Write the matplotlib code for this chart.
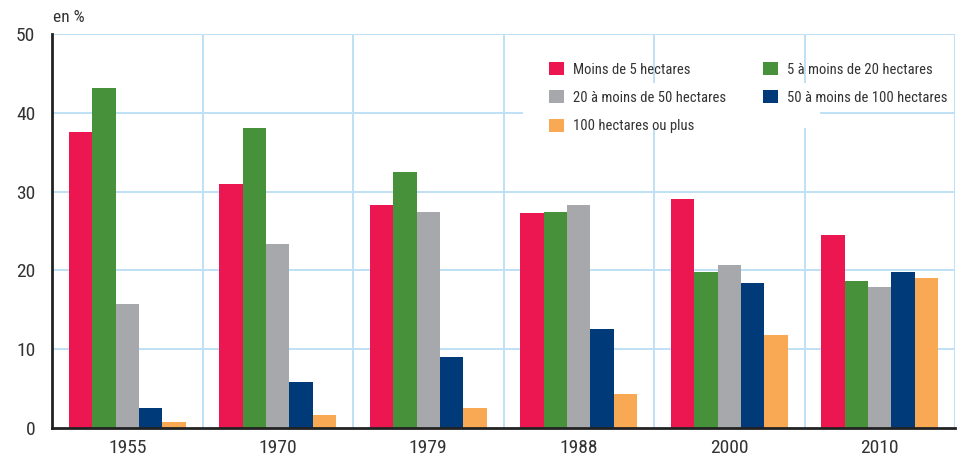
import matplotlib
matplotlib.use("Agg")
import matplotlib.pyplot as plt
import numpy as np
from matplotlib.patches import Rectangle
import logging
logging.getLogger('matplotlib.font_manager').setLevel(logging.ERROR)

years = ["1955", "1970", "1979", "1988", "2000", "2010"]
series_names = ["Moins de 5 hectares", "5 à moins de 20 hectares",
                "20 à moins de 50 hectares", "50 à moins de 100 hectares",
                "100 hectares ou plus"]
moins5 = [37.6, 31.0, 28.3, 27.3, 29.1, 24.5]
de5a20 = [43.2, 38.1, 32.5, 27.4, 19.8, 18.6]
de20a50 = [15.7, 23.3, 27.4, 28.3, 20.7, 17.9]
de50a100 = [2.5, 5.8, 9.0, 12.6, 18.4, 19.8]
plus100 = [0.7, 1.6, 2.6, 4.3, 11.8, 19.0]
series = [moins5, de5a20, de20a50, de50a100, plus100]
colors = ["#EC1651", "#47913A", "#A7A8AB", "#003A78", "#F9A953"]
yticks = [0, 10, 20, 30, 40, 50]

plt.rcParams['font.family'] = ['Roboto Condensed', 'Archivo Narrow', 'Liberation Sans', 'DejaVu Sans']
txt = "#333333"

fig = plt.figure(figsize=(9.59, 4.59), dpi=100)
ax = fig.add_axes([52/959, (459-428)/459, (955-52)/959, (428-34)/459])

x = np.arange(len(years))
w = 0.156
handles = []
for i, (vals, c) in enumerate(zip(series, colors)):
    b = ax.bar(x + (i - 2) * w, vals, width=w, color=c, zorder=3, label=series_names[i])
    handles.append(b)

ax.set_xlim(-0.5, len(years) - 0.5)
ax.set_ylim(0, 50)
ax.set_yticks(yticks)
ax.set_yticklabels([str(t) for t in yticks], fontsize=14, color=txt)
ax.set_xticks(x)
ax.set_xticklabels(years, fontsize=14, color=txt)
ax.tick_params(axis='both', length=0)
ax.tick_params(axis='x', pad=8)
ax.tick_params(axis='y', pad=12)

grid_c = "#BFE0F5"
for t in yticks[1:]:
    ax.axhline(t, color=grid_c, lw=1.4, zorder=1)
for b in np.arange(0.5, len(years), 1.0):
    ax.axvline(b, color=grid_c, lw=1.4, zorder=1)

for s in ["top", "right"]:
    ax.spines[s].set_visible(False)
for s in ["left", "bottom"]:
    ax.spines[s].set_linewidth(2)
    ax.spines[s].set_color("#222222")
    ax.spines[s].set_zorder(5)

def px2ax(px, py):
    return ((px - 52) / (955 - 52), (428 - py) / (428 - 34))

# white patch behind legend
x0, y0 = px2ax(523, 128)
x1, y1 = px2ax(820, 83)
ax.add_patch(Rectangle((x0, y0), x1 - x0, y1 - y0, transform=ax.transAxes,
                       facecolor="white", edgecolor="none", zorder=2))

order = [0, 2, 4, 1, 3]
leg = ax.legend([handles[i] for i in order], [series_names[i] for i in order],
                ncol=2, loc="upper left", bbox_to_anchor=px2ax(549, 62),
                frameon=False, fontsize=10.5, handlelength=1.0, handleheight=1.0,
                handletextpad=0.65, columnspacing=2.55, labelspacing=0.95,
                borderaxespad=0, borderpad=0)
for t in leg.get_texts():
    t.set_color(txt)

fig.text(53/959, 1 - 18/459, "en %", fontsize=12.5, color=txt, va="center", ha="left")

fig.savefig("out.png", dpi=100)
